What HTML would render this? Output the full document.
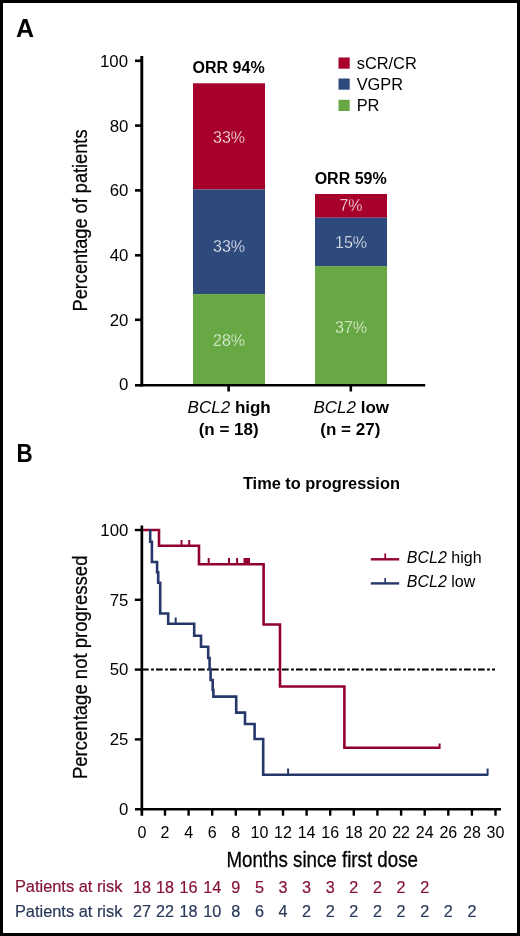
<!DOCTYPE html>
<html><head><meta charset="utf-8"><style>
html,body{margin:0;padding:0;background:#fff;}
svg{display:block;will-change:transform;}
text{font-family:"Liberation Sans",sans-serif;}
</style></head><body>
<svg width="520" height="936" viewBox="0 0 520 936">
<rect x="0" y="0" width="520" height="936" fill="#fff"/>
<rect x="1.5" y="1.5" width="517" height="933" fill="none" stroke="#000" stroke-width="3"/>

<!-- ============ PANEL A ============ -->
<text x="16" y="36.5" font-size="25" font-weight="bold" fill="#000">A</text>

<!-- bars -->
<g>
<rect x="193" y="83.3" width="72" height="106.1" fill="#A6002B"/>
<rect x="193" y="189.4" width="72" height="104.7" fill="#2E4A7D"/>
<rect x="193" y="294.1" width="72" height="90.9" fill="#67A844"/>
<rect x="315" y="194" width="72" height="23.7" fill="#A6002B"/>
<rect x="315" y="217.7" width="72" height="48.4" fill="#2E4A7D"/>
<rect x="315" y="266.1" width="72" height="118.9" fill="#67A844"/>
</g>
<g font-size="16" fill="#fff" text-anchor="middle" stroke-width="0.35">
<text x="229" y="142.6" stroke="#A6002B">33%</text>
<text x="229" y="251.8" stroke="#2E4A7D">33%</text>
<text x="229" y="345.6" stroke="#67A844" fill="#F4FBEF">28%</text>
<text x="351" y="210.6" stroke="#A6002B">7%</text>
<text x="351" y="247.9" stroke="#2E4A7D">15%</text>
<text x="351" y="332.5" stroke="#67A844" fill="#F4FBEF">37%</text>
</g>
<g font-size="16" font-weight="bold" fill="#000" text-anchor="middle">
<text x="228.6" y="72.7">ORR 94%</text>
<text x="350.7" y="184">ORR 59%</text>
</g>

<!-- axes A -->
<g stroke="#000" fill="none">
<line x1="141.8" y1="56" x2="141.8" y2="386.6" stroke-width="2.9"/>
<line x1="140.5" y1="385.3" x2="425.2" y2="385.3" stroke-width="2.6"/>
<g stroke-width="2.6">
<line x1="135" y1="60.8" x2="141" y2="60.8"/>
<line x1="135" y1="125.6" x2="141" y2="125.6"/>
<line x1="135" y1="190.4" x2="141" y2="190.4"/>
<line x1="135" y1="255.3" x2="141" y2="255.3"/>
<line x1="135" y1="319.8" x2="141" y2="319.8"/>
<line x1="135" y1="385.3" x2="141" y2="385.3"/>
<line x1="228.6" y1="385" x2="228.6" y2="391.5"/>
<line x1="350.8" y1="385" x2="350.8" y2="391.5"/>
</g>
</g>
<g font-size="16.8" fill="#000" text-anchor="end">
<text x="128" y="66.6">100</text>
<text x="128.3" y="131.5">80</text>
<text x="128.3" y="196.3">60</text>
<text x="128.3" y="261.2">40</text>
<text x="128.3" y="325.7">20</text>
<text x="128.3" y="390.4">0</text>
</g>
<text transform="translate(87.3,220.5) rotate(-90)" font-size="21" text-anchor="middle" fill="#000" stroke="#000" stroke-width="0.25" textLength="182" lengthAdjust="spacingAndGlyphs">Percentage of patients</text>

<!-- x labels A -->
<g font-size="17" fill="#000" text-anchor="middle">
<text x="229.2" y="413.2"><tspan font-style="italic">BCL2</tspan> <tspan font-weight="bold">high</tspan></text>
<text x="228.7" y="434.9" font-weight="bold">(n = 18)</text>
<text x="351.2" y="413.2"><tspan font-style="italic">BCL2</tspan> <tspan font-weight="bold">low</tspan></text>
<text x="350.3" y="434.9" font-weight="bold">(n = 27)</text>
</g>

<!-- legend A -->
<rect x="338.5" y="57.5" width="11.2" height="11.2" fill="#A6002B"/>
<rect x="338.5" y="78.5" width="11.2" height="11.2" fill="#2E4A7D"/>
<rect x="338.5" y="99.8" width="11.2" height="11.2" fill="#67A844"/>
<g font-size="16.4" fill="#000">
<text x="356.7" y="68.8">sCR/CR</text>
<text x="356.7" y="89.8">VGPR</text>
<text x="356.7" y="111">PR</text>
</g>

<!-- ============ PANEL B ============ -->
<text x="16.6" y="462" font-size="25" font-weight="bold" fill="#000" textLength="16.2" lengthAdjust="spacingAndGlyphs">B</text>
<text x="321.4" y="489" font-size="16" font-weight="bold" fill="#000" text-anchor="middle" textLength="157" lengthAdjust="spacingAndGlyphs">Time to progression</text>

<!-- dashed 50% line -->
<line x1="142" y1="669.6" x2="495" y2="669.6" stroke="#000" stroke-width="2" stroke-dasharray="6.7 2.4 2.8 2.1"/>

<!-- KM red -->
<polyline fill="none" stroke="#930030" stroke-width="2.6" stroke-linejoin="miter" stroke-linecap="butt"
points="142,530 159,530 159,545.8 199,545.8 199,564.2 263.6,564.2 263.6,624.5 280,624.5 280,686.5 344.4,686.5 344.4,747.8 439.8,747.8"/>
<g stroke="#930030" stroke-width="2" fill="none">
<line x1="181.5" y1="540" x2="181.5" y2="545"/>
<line x1="189.2" y1="540" x2="189.2" y2="545"/>
<line x1="208.7" y1="558" x2="208.7" y2="563.5"/>
<line x1="229" y1="558" x2="229" y2="563.5"/>
<line x1="237.1" y1="558" x2="237.1" y2="563.5"/>
<line x1="244.5" y1="558" x2="244.5" y2="563.5"/>
<line x1="249" y1="558" x2="249" y2="563.5"/>
<line x1="439.6" y1="743.5" x2="439.6" y2="749"/>
</g>
<rect x="244" y="558" width="6" height="6" fill="#930030"/>

<!-- KM blue -->
<polyline fill="none" stroke="#26386A" stroke-width="2.6" stroke-linejoin="miter" stroke-linecap="butt"
points="150.2,529 150.2,541.8 151.9,541.8 151.9,562 157.1,562 157.1,572.3 158.2,572.3 158.2,582.7 160.2,582.7 160.2,613.5 168.2,613.5 168.2,623.8 194.2,623.8 194.2,635.8 201,635.8 201,646.7 208.2,646.7 208.2,658 209.6,658 209.6,669 210.6,669 210.6,680 212.7,680 212.7,690 213.4,690 213.4,696.6 236.2,696.6 236.2,712.6 245,712.6 245,724 254.6,724 254.6,739 263.2,739 263.2,774.7 487.8,774.7"/>
<g stroke="#26386A" stroke-width="2" fill="none">
<line x1="175.7" y1="617.5" x2="175.7" y2="623"/>
<line x1="288.1" y1="768.5" x2="288.1" y2="774"/>
<line x1="487.6" y1="768.5" x2="487.6" y2="775.5"/>
</g>

<!-- axes B -->
<g stroke="#000" stroke-width="2.4" fill="none">
<line x1="141.85" y1="525.5" x2="141.85" y2="815.7" stroke-width="2.7"/>
<line x1="135" y1="809.3" x2="501" y2="809.3" stroke-width="2.6"/>
<line x1="134.8" y1="530" x2="142" y2="530"/>
<line x1="134.8" y1="599.8" x2="142" y2="599.8"/>
<line x1="134.8" y1="669.6" x2="142" y2="669.6"/>
<line x1="134.8" y1="739.4" x2="142" y2="739.4"/>
</g>
<g stroke="#000" stroke-width="2.4" fill="none"><line x1="165.0" y1="809.3" x2="165.0" y2="815.7"/><line x1="188.6" y1="809.3" x2="188.6" y2="815.7"/><line x1="212.2" y1="809.3" x2="212.2" y2="815.7"/><line x1="235.8" y1="809.3" x2="235.8" y2="815.7"/><line x1="259.4" y1="809.3" x2="259.4" y2="815.7"/><line x1="283.0" y1="809.3" x2="283.0" y2="815.7"/><line x1="306.6" y1="809.3" x2="306.6" y2="815.7"/><line x1="330.2" y1="809.3" x2="330.2" y2="815.7"/><line x1="353.8" y1="809.3" x2="353.8" y2="815.7"/><line x1="377.4" y1="809.3" x2="377.4" y2="815.7"/><line x1="401.1" y1="809.3" x2="401.1" y2="815.7"/><line x1="424.7" y1="809.3" x2="424.7" y2="815.7"/><line x1="448.3" y1="809.3" x2="448.3" y2="815.7"/><line x1="471.9" y1="809.3" x2="471.9" y2="815.7"/><line x1="495.5" y1="809.3" x2="495.5" y2="815.7"/></g>
<g font-size="16" fill="#000" text-anchor="middle"><text x="141.9" y="838.1">0</text><text x="165.0" y="838.1">2</text><text x="188.6" y="838.1">4</text><text x="212.2" y="838.1">6</text><text x="235.8" y="838.1">8</text><text x="259.4" y="838.1">10</text><text x="283.0" y="838.1">12</text><text x="306.6" y="838.1">14</text><text x="330.2" y="838.1">16</text><text x="353.8" y="838.1">18</text><text x="377.4" y="838.1">20</text><text x="401.1" y="838.1">22</text><text x="424.7" y="838.1">24</text><text x="448.3" y="838.1">26</text><text x="471.9" y="838.1">28</text><text x="495.5" y="838.1">30</text></g>
<g font-size="16.8" fill="#000" text-anchor="end">
<text x="128.3" y="535.7">100</text>
<text x="128.3" y="605.5">75</text>
<text x="128.3" y="675.3">50</text>
<text x="128.3" y="745.1">25</text>
<text x="128.3" y="814.9">0</text>
</g>
<text transform="translate(87.3,667.3) rotate(-90)" font-size="21" text-anchor="middle" fill="#000" stroke="#000" stroke-width="0.25" textLength="223.5" lengthAdjust="spacingAndGlyphs">Percentage not progressed</text>

<!-- legend B -->
<line x1="370.8" y1="559.3" x2="399.2" y2="559.3" stroke="#930030" stroke-width="2.4"/>
<line x1="385.2" y1="553.4" x2="385.2" y2="559.3" stroke="#930030" stroke-width="1.7"/>
<line x1="370.8" y1="583.4" x2="399.2" y2="583.4" stroke="#26386A" stroke-width="2.4"/>
<line x1="385.2" y1="578" x2="385.2" y2="583.4" stroke="#26386A" stroke-width="1.7"/>
<g font-size="16" fill="#000">
<text x="406.8" y="563"><tspan font-style="italic">BCL2</tspan> high</text>
<text x="406.8" y="587"><tspan font-style="italic">BCL2</tspan> low</text>
</g>

<text x="322.2" y="866.6" font-size="22" fill="#000" stroke="#000" stroke-width="0.3" text-anchor="middle" textLength="191.5" lengthAdjust="spacingAndGlyphs">Months since first dose</text>

<text x="14.9" y="892.3" font-size="16.2" fill="#861436" stroke="#861436" stroke-width="0.2" textLength="107.5" lengthAdjust="spacingAndGlyphs">Patients at risk</text>
<g font-size="16.2" fill="#861436" stroke="#861436" stroke-width="0.2" text-anchor="middle"><text x="141.9" y="892.5">18</text><text x="165.0" y="892.5">18</text><text x="188.6" y="892.5">16</text><text x="212.2" y="892.5">14</text><text x="235.8" y="892.5">9</text><text x="259.4" y="892.5">5</text><text x="283.0" y="892.5">3</text><text x="306.6" y="892.5">3</text><text x="330.2" y="892.5">3</text><text x="353.8" y="892.5">2</text><text x="377.4" y="892.5">2</text><text x="401.1" y="892.5">2</text><text x="424.7" y="892.5">2</text></g>
<text x="14.9" y="916.6" font-size="16.2" fill="#2A3A5A" stroke="#2A3A5A" stroke-width="0.2" textLength="107.5" lengthAdjust="spacingAndGlyphs">Patients at risk</text>
<g font-size="16.2" fill="#2A3A5A" stroke="#2A3A5A" stroke-width="0.2" text-anchor="middle"><text x="141.9" y="916.7">27</text><text x="165.0" y="916.7">22</text><text x="188.6" y="916.7">18</text><text x="212.2" y="916.7">10</text><text x="235.8" y="916.7">8</text><text x="259.4" y="916.7">6</text><text x="283.0" y="916.7">4</text><text x="306.6" y="916.7">2</text><text x="330.2" y="916.7">2</text><text x="353.8" y="916.7">2</text><text x="377.4" y="916.7">2</text><text x="401.1" y="916.7">2</text><text x="424.7" y="916.7">2</text><text x="448.3" y="916.7">2</text><text x="471.9" y="916.7">2</text></g>
</svg>
</body></html>
